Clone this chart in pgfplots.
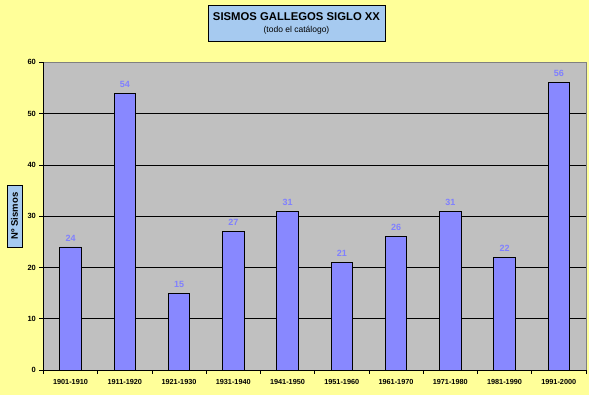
\documentclass[border=0pt]{standalone}
\usepackage{pgfplots}
\pgfplotsset{compat=1.18}
\usepackage{fontspec}
\setmainfont{Liberation Sans}
\definecolor{bgy}{HTML}{FFFF99}
\definecolor{plotg}{HTML}{C0C0C0}
\definecolor{barc}{HTML}{8888FF}
\definecolor{lblc}{HTML}{8080FF}
\definecolor{boxb}{HTML}{A6CAF0}
\begin{document}
\begin{tikzpicture}[x=1pt,y=1pt]
\fill[bgy] (0,0) rectangle (589,395);
\path[use as bounding box] (0,0) rectangle (589,395);
\begin{axis}[
  at={(43.4pt,25pt)}, anchor=south west,
  scale only axis, width=542.5pt, height=307.7pt,
  xmin=-0.5, xmax=9.5, ymin=0, ymax=60,
  axis background/.style={fill=plotg},
  axis line style={draw=none},
  ytick={0,10,...,60},
  ymajorgrids, grid style={black, line width=0.6pt},
  xtick={-0.5,0.5,...,9.5},
  xticklabels={},
  extra x ticks={0,...,9},
  extra x tick labels={1901-1910,1911-1920,1921-1930,1931-1940,1941-1950,1951-1960,1961-1970,1971-1980,1981-1990,1991-2000},
  extra x tick style={major tick length=0pt, grid=none},
  x tick label style={font=\bfseries\fontsize{7.3}{8}\selectfont, yshift=-6pt},
  y tick label style={font=\bfseries\fontsize{7.5}{8}\selectfont},
  /pgf/number format/assume math mode=true,
  tick align=outside, major tick length=4pt,
  tick style={black, line width=0.6pt},
  tick pos=left,
  ybar, bar width=21.4pt,
  nodes near coords,
  every node near coord/.append style={font=\bfseries\fontsize{9}{10}\selectfont, text=lblc, yshift=2pt},
  clip=false,
]
\addplot[fill=barc, draw=black, line width=0.8pt] coordinates {
(0,24) (1,54) (2,15) (3,27) (4,31) (5,21) (6,26) (7,31) (8,22) (9,56)};
\draw[gray, line width=0.8pt] (rel axis cs:0,1) -- (rel axis cs:1,1) -- (rel axis cs:1,0);
\draw[black, line width=0.8pt] (rel axis cs:0,1) -- (rel axis cs:0,0) -- (rel axis cs:1,0);
\end{axis}
\node[draw=black, fill=boxb, line width=0.8pt, minimum width=177pt, minimum height=36pt, align=center, inner sep=2pt] at (296.5,372)
  {\bfseries\fontsize{11.3}{12}\selectfont SISMOS GALLEGOS SIGLO XX\\[0pt]\fontsize{8.5}{9}\selectfont (todo el catálogo)};
\node[draw=black, fill=boxb, line width=0.8pt, rotate=90, minimum width=62pt, minimum height=15pt, inner sep=1pt] at (14.5,179)
  {\bfseries\fontsize{9.5}{10}\selectfont Nº Sismos};
\end{tikzpicture}
\end{document}
